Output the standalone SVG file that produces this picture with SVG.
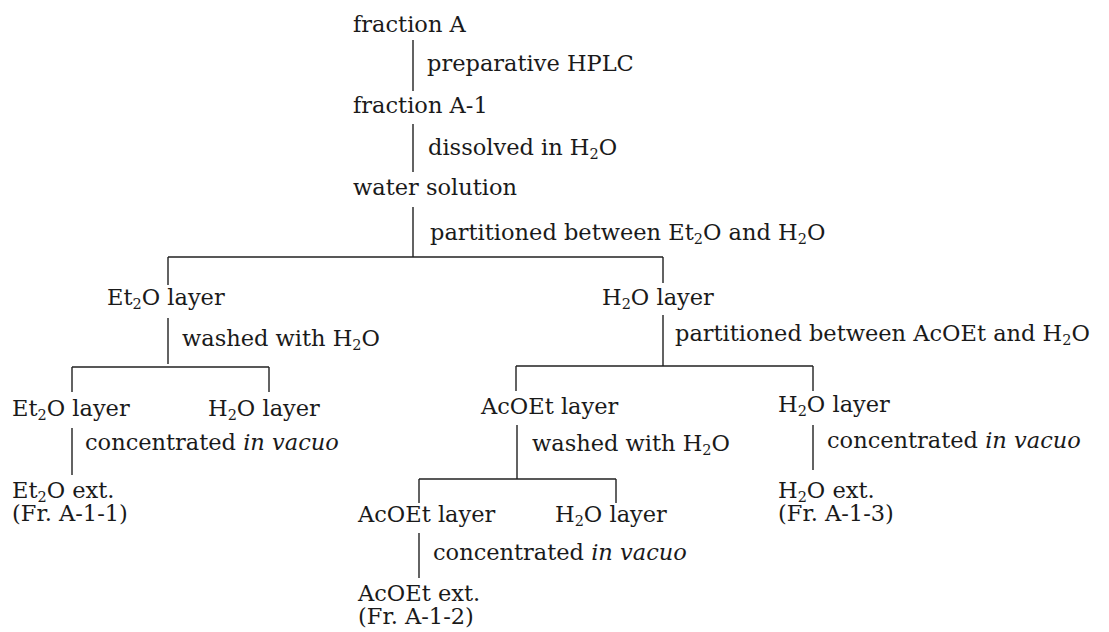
<svg xmlns="http://www.w3.org/2000/svg" width="1109" height="632" viewBox="0 0 1109 632">
<style>
.t{font-family:"DejaVu Serif","Liberation Serif",serif;font-size:22.5px;fill:#1a1a1a}
.s{font-size:14.5px}
.i{font-style:italic}
.ln{stroke:#222;stroke-width:1.4;fill:none}
</style>
<rect width="1109" height="632" fill="#fff"/>
<g id="connectors">
<path class="ln" d="M413 40V91M413 124V172M413 207V257"/>
<path class="ln" d="M168 257H663M168 257V285M663 257V283"/>
<path class="ln" d="M168 318V364M663 315V366"/>
<path class="ln" d="M72 367H269M72 367V392M269 367V392"/>
<path class="ln" d="M516 366H813M516 366V391M813 366V391"/>
<path class="ln" d="M72 428V475M813 425V470M517 425V479"/>
<path class="ln" d="M419 479H616M419 479V503M616 479V503"/>
<path class="ln" d="M419 533V578"/>
</g>
<g id="fractionA"><text class="t" x="353" y="32">fraction A</text></g>
<g id="lbl-hplc"><text class="t" x="427" y="71">preparative HPLC</text></g>
<g id="fractionA1"><text class="t" x="353" y="113">fraction A-1</text></g>
<g id="lbl-dissolved"><text class="t" x="428" y="155">dissolved in H<tspan class="s" dy="4">2</tspan><tspan dy="-4">O</tspan></text></g>
<g id="water"><text class="t" x="353" y="195">water solution</text></g>
<g id="lbl-part1"><text class="t" x="430" y="240">partitioned between Et<tspan class="s" dy="4">2</tspan><tspan dy="-4">O and H</tspan><tspan class="s" dy="4">2</tspan><tspan dy="-4">O</tspan></text></g>
<g id="et2o-layer"><text class="t" x="107" y="305">Et<tspan class="s" dy="4">2</tspan><tspan dy="-4">O layer</tspan></text></g>
<g id="lbl-wash1"><text class="t" x="182" y="346">washed with H<tspan class="s" dy="4">2</tspan><tspan dy="-4">O</tspan></text></g>
<g id="h2o-layer"><text class="t" x="602" y="305">H<tspan class="s" dy="4">2</tspan><tspan dy="-4">O layer</tspan></text></g>
<g id="lbl-part2"><text class="t" x="675" y="341">partitioned between AcOEt and H<tspan class="s" dy="4">2</tspan><tspan dy="-4">O</tspan></text></g>
<g id="et2o-layer2"><text class="t" x="12" y="416">Et<tspan class="s" dy="4">2</tspan><tspan dy="-4">O layer</tspan></text></g>
<g id="h2o-layer2"><text class="t" x="208" y="416">H<tspan class="s" dy="4">2</tspan><tspan dy="-4">O layer</tspan></text></g>
<g id="acoet-layer"><text class="t" x="481" y="414">AcOEt layer</text></g>
<g id="h2o-layer3"><text class="t" x="778" y="412">H<tspan class="s" dy="4">2</tspan><tspan dy="-4">O layer</tspan></text></g>
<g id="lbl-conc1"><text class="t" x="85" y="450">concentrated <tspan class="i">in vacuo</tspan></text></g>
<g id="lbl-wash2"><text class="t" x="532" y="451">washed with H<tspan class="s" dy="4">2</tspan><tspan dy="-4">O</tspan></text></g>
<g id="lbl-conc3"><text class="t" x="827" y="448">concentrated <tspan class="i">in vacuo</tspan></text></g>
<g id="et2o-ext"><text class="t" x="12" y="498">Et<tspan class="s" dy="4">2</tspan><tspan dy="-4">O ext.</tspan><tspan x="12" dy="23">(Fr. A-1-1)</tspan></text></g>
<g id="h2o-ext"><text class="t" x="778" y="498">H<tspan class="s" dy="4">2</tspan><tspan dy="-4">O ext.</tspan><tspan x="778" dy="23">(Fr. A-1-3)</tspan></text></g>
<g id="acoet-layer2"><text class="t" x="358" y="522">AcOEt layer</text></g>
<g id="h2o-layer4"><text class="t" x="555" y="522">H<tspan class="s" dy="4">2</tspan><tspan dy="-4">O layer</tspan></text></g>
<g id="lbl-conc2"><text class="t" x="433" y="560">concentrated <tspan class="i">in vacuo</tspan></text></g>
<g id="acoet-ext"><text class="t" x="358" y="601">AcOEt ext.<tspan x="358" dy="23">(Fr. A-1-2)</tspan></text></g>
</svg>
